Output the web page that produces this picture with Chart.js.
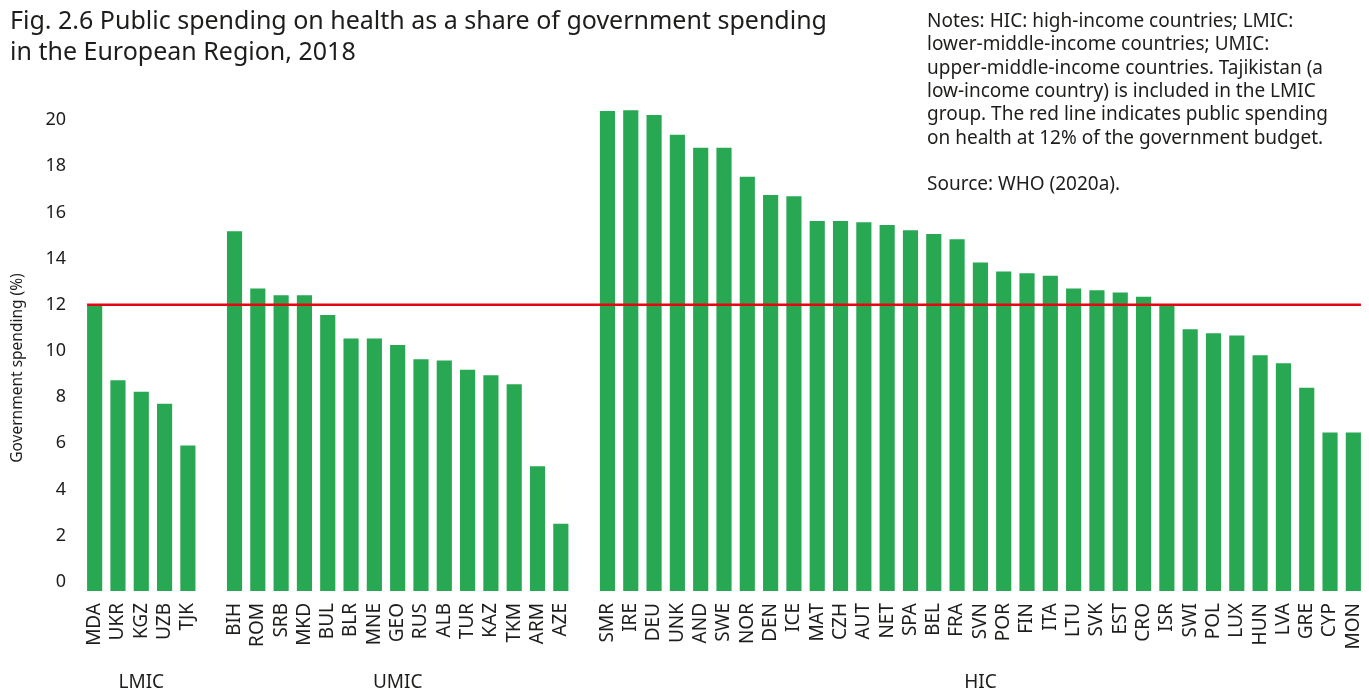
<!DOCTYPE html>
<html>
<head>
<meta charset="utf-8">
<title>Public spending on health, European Region 2018</title>
<script src="https://cdn.jsdelivr.net/npm/chart.js@4.4.1/dist/chart.umd.min.js"></script>
<style>
    html, body { margin: 0; padding: 0; background: #fff; }
    #wrap { position: relative; width: 1369px; height: 691px; }
</style>
</head>
<body>
<div id="wrap"><canvas id="mainChart"></canvas></div>
<script>
// --- DATA ---
const lmicCountries = ['MDA', 'UKR', 'KGZ', 'UZB', 'TJK'];
const lmicValues = [11.95, 8.73, 8.23, 7.71, 5.9];

const umicCountries = ['BIH', 'ROM', 'SRB', 'MKD', 'BUL', 'BLR', 'MNE', 'GEO', 'RUS', 'ALB', 'TUR', 'KAZ', 'TKM', 'ARM', 'AZE'];
const umicValues = [15.18, 12.7, 12.41, 12.41, 11.56, 10.54, 10.54, 10.26, 9.64, 9.58, 9.18, 8.95, 8.56, 5.0, 2.51];

const hicCountries = ['SMR', 'IRE', 'DEU', 'UNK', 'AND', 'SWE', 'NOR', 'DEN', 'ICE', 'MAT', 'CZH', 'AUT', 'NET', 'SPA', 'BEL', 'FRA',
    'SVN', 'POR', 'FIN', 'ITA', 'LTU', 'SVK', 'EST', 'CRO', 'ISR', 'SWI', 'POL', 'LUX', 'HUN', 'LVA', 'GRE', 'CYP', 'MON'];
const hicValues = [20.39, 20.43, 20.22, 19.37, 18.8, 18.8, 17.55, 16.75, 16.7, 15.63, 15.63, 15.57, 15.45, 15.23, 15.07, 14.84,
    13.83, 13.44, 13.36, 13.26, 12.7, 12.63, 12.53, 12.35, 12.02, 10.94, 10.77, 10.67, 9.81, 9.47, 8.4, 6.47, 6.47];

const groupNames = ['LMIC', 'UMIC', 'HIC'];
const yTicks = [0, 2, 4, 6, 8, 10, 12, 14, 16, 18, 20];
const benchmark = 12;

const titleLines = ['Fig. 2.6 Public spending on health as a share of government spending', 'in the European Region, 2018'];
const yTitle = 'Government spending (%)';
const noteLines = [
    'Notes: HIC: high-income countries; LMIC:',
    'lower-middle-income countries; UMIC:',
    'upper-middle-income countries. Tajikistan (a',
    'low-income country) is included in the LMIC',
    'group. The red line indicates public spending',
    'on health at 12% of the government budget.',
    '',
    'Source: WHO (2020a).'
];

// one empty slot between the income groups
const groups = [lmicCountries, umicCountries, hicCountries];
const groupValues = [lmicValues, umicValues, hicValues];
const labels = [];
const values = [];
const groupRanges = [];
groups.forEach((g, i) => {
    if (i > 0) { labels.push(''); values.push(null); }
    const start = labels.length;
    g.forEach((c, j) => { labels.push(c); values.push(groupValues[i][j]); });
    groupRanges.push([start, labels.length - 1]);
});

const TEXT = '#1d1d1b';
const FONT = '"Noto Sans"';
Chart.defaults.font.family = FONT;
Chart.defaults.color = TEXT;

// red 12% line across all bars
const benchmarkLine = {
    id: 'benchmarkLine',
    afterDatasetsDraw(chart) {
        const { ctx, scales: { x, y } } = chart;
        const bars = chart.getDatasetMeta(0).data;
        const half = bars[0].width / 2;
        const yy = y.getPixelForValue(benchmark);
        ctx.save();
        ctx.strokeStyle = '#e30613';
        ctx.lineWidth = 2.5;
        ctx.beginPath();
        ctx.moveTo(x.getPixelForValue(0) - half, yy);
        ctx.lineTo(x.getPixelForValue(labels.length - 1) + half, yy);
        ctx.stroke();
        ctx.restore();
    }
};

// y title, group names under the country codes, notes block
const annotations = {
    id: 'annotations',
    afterDraw(chart) {
        const { ctx, scales: { x } } = chart;
        ctx.save();
        ctx.fillStyle = TEXT;

        ctx.save();
        ctx.translate(18, 368);
        ctx.rotate(-Math.PI / 2);
        ctx.font = `15.5px ${FONT}`;
        ctx.textAlign = 'center';
        ctx.textBaseline = 'middle';
        ctx.fillText(yTitle, 0, 0);
        ctx.restore();

        ctx.textBaseline = 'alphabetic';
        ctx.font = `19px ${FONT}`;
        ctx.textAlign = 'center';
        groupRanges.forEach(([a, b], i) => {
            const cx = (x.getPixelForValue(a) + x.getPixelForValue(b)) / 2;
            ctx.fillText(groupNames[i], cx, 688);
        });

        ctx.textAlign = 'left';
        ctx.font = `19px ${FONT}`;
        noteLines.forEach((line, i) => ctx.fillText(line, 927, 27 + i * 23.3));
        ctx.restore();
    }
};

new Chart(document.getElementById('mainChart'), {
    type: 'bar',
    data: {
        labels: labels,
        datasets: [{
            data: values,
            base: -0.4,
            backgroundColor: '#28a852',
            barPercentage: 0.65,
            categoryPercentage: 1.0
        }]
    },
    options: {
        responsive: true,
        maintainAspectRatio: false,
        animation: false,
        layout: { padding: { left: 10, right: 4, top: 0, bottom: 30 } },
        plugins: {
            legend: { display: false },
            tooltip: { enabled: false },
            title: {
                display: true,
                text: titleLines,
                align: 'start',
                color: TEXT,
                font: { size: 25, weight: 'normal', lineHeight: 1.25 },
                padding: { top: 6, bottom: 28.5 }
            }
        },
        scales: {
            x: {
                grid: { display: false, drawTicks: false },
                border: { display: false },
                ticks: { autoSkip: false, maxRotation: 90, minRotation: 90, padding: 12, font: { size: 19 }, color: TEXT },
                afterFit: (scale) => {
                    scale.height = 70;
                    scale.paddingLeft = 0;
                    scale.paddingRight = 0;
                }
            },
            y: {
                min: -0.4,
                max: 21,
                grid: { display: false, drawTicks: false },
                border: { display: false },
                afterBuildTicks: (axis) => { axis.ticks = yTicks.map(v => ({ value: v })); },
                ticks: { padding: 17, font: { size: 18 }, color: TEXT },
                afterFit: (scale) => { scale.width = 73; }
            }
        }
    },
    plugins: [benchmarkLine, annotations]
});
</script>
</body>
</html>
